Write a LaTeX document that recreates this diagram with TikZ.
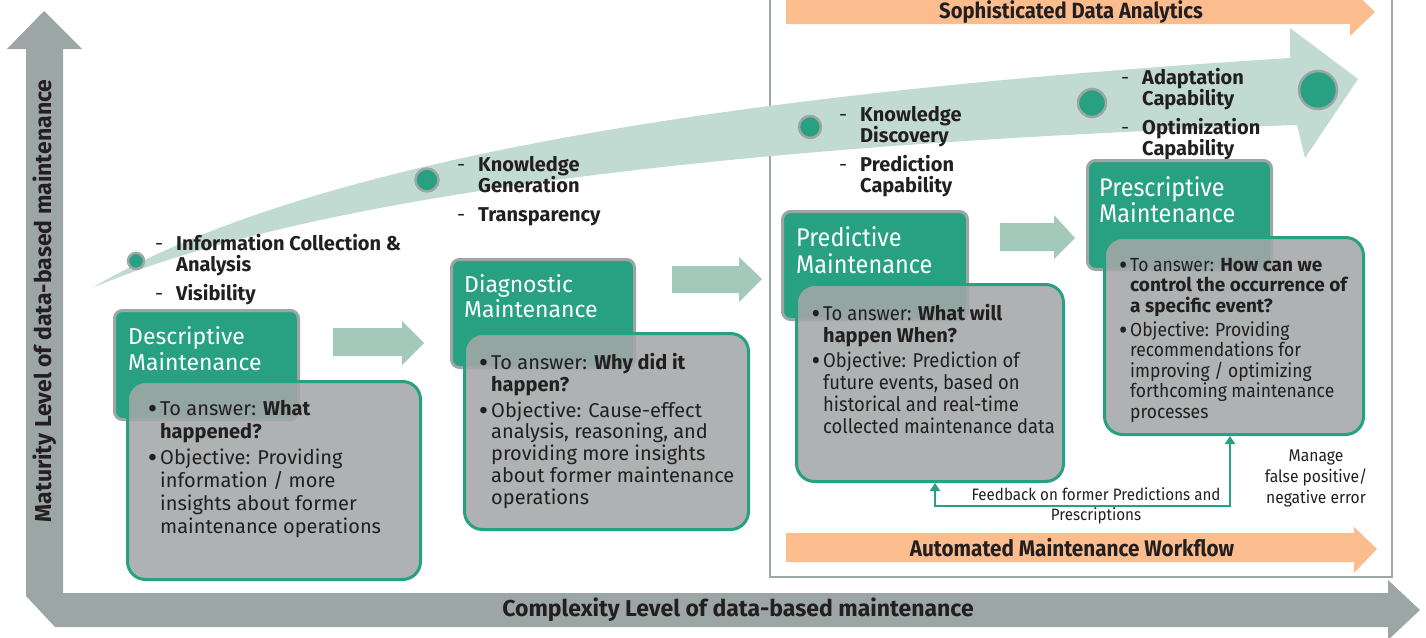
\documentclass[tikz,border=0pt]{standalone}
\usepackage{fontspec}
\setmainfont{Fira Sans}
\newfontfamily\cond[FakeStretch=0.92, BoldFeatures={FakeStretch=1.0}]{Fira Sans}
\newfontfamily\condb[FakeStretch=0.92]{Fira Sans}
\usetikzlibrary{arrows.meta}
\definecolor{axisgray}{HTML}{9CA6A5}
\definecolor{tgreen}{HTML}{27A182}
\definecolor{curvegreen}{HTML}{C2DBD2}
\definecolor{blockgreen}{HTML}{A2C9BA}
\definecolor{peach}{HTML}{FBBC8E}
\definecolor{boxgray}{HTML}{A3A7A7}
\definecolor{txt}{HTML}{231F20}
\newcommand{\bul}{\llap{\raisebox{-0.17em}{\scalebox{1.45}{\textbullet}}\hspace{3pt}}}
\newcommand{\dsh}{\llap{\mdseries-\hspace{13pt}}}
\begin{document}
\begin{tikzpicture}[x=1pt,y=-1pt,
  titlebox/.style={draw=axisgray, line width=3pt, fill=tgreen, rounded corners=8pt, inner sep=0pt, anchor=north west},
  graybox/.style={draw=tgreen, line width=3pt, fill=boxgray, fill opacity=0.88, rounded corners=18pt, inner sep=0pt, anchor=north west},
  titletext/.style={text=white, align=left, anchor=north west, inner sep=0pt},
  bodytext/.style={text=txt, align=left, anchor=north west, inner sep=0pt},
  listtext/.style={text=txt, align=left, anchor=north west, inner sep=0pt, font=\fontsize{20}{21}\selectfont\bfseries},
  dot/.style={circle, draw=axisgray, line width=2.5pt, fill=tgreen, inner sep=0pt},
  fb/.style={draw=tgreen, line width=2pt, arrows={Triangle[width=10pt,length=8pt]-Triangle[width=10pt,length=8pt]}},
  axislabel/.style={text=txt, font=\fontsize{23}{26}\selectfont\bfseries, inner sep=0pt},
  orangelabel/.style={text=txt, font=\condb\fontsize{22.5}{24}\selectfont\bfseries, inner sep=0pt}
]
\useasboundingbox (0,0) rectangle (1426,637);

% axes
\fill[axisgray] (44,11) -- (82,49) -- (63,49) -- (63,593) -- (1388,593) -- (1388,580) -- (1420,610) -- (1388,640) -- (1388,627) -- (55,627) -- (26,596) -- (26,49) -- (7,49) -- cycle;
\node[axislabel, rotate=90] (ylab) at (45,301) {Maturity Level of data-based maintenance};
\node[axislabel] (xlab) at (738,610) {Complexity Level of data-based maintenance};

% right frame
\draw[axisgray, line width=2pt] (770,-5) -- (770,577) -- (1392,577) -- (1392,-5);

% orange arrows
\fill[peach] (786,-2) -- (1350,-2) -- (1350,-12) -- (1375,12) -- (1350,36) -- (1350,24) -- (786,24) -- cycle;
\node[orangelabel, font=\condb\fontsize{22}{24}\selectfont\bfseries] (sda) at (1071,12) {Sophisticated Data Analytics};
\fill[peach] (786,533) -- (1354,533) -- (1354,527) -- (1377,549) -- (1354,573) -- (1354,562) -- (786,562) -- cycle;
\node[orangelabel] (amw) at (1072,548) {Automated Maintenance Workflow};

% big curved arrow
\fill[curvegreen] (92,288) .. controls (300,165) and (700,95) .. (1290,58) -- (1290,28) -- (1358,79) -- (1305,158) -- (1297,125) .. controls (700,145) and (300,200) .. (92,288) -- cycle;

% dots
\node[dot, minimum size=24pt] (d0) at (418,-14) {};
\node[dot, minimum size=16pt] (d1) at (136,261) {};
\node[dot, minimum size=23pt] (d2) at (427,180) {};
\node[dot, minimum size=22pt] (d3) at (810,127) {};
\node[dot, minimum size=28pt] (d4) at (1092,103) {};
\node[dot, minimum size=38pt] (d5) at (1318,90) {};

% lists
\node[listtext] (l1) at (176,234) {\dsh Information Collection \&\\ Analysis\\[8pt] \dsh Visibility};
\node[listtext] (l2) at (478,156) {\dsh Knowledge\\ Generation\\[8pt] \dsh Transparency};
\node[listtext] (l3) at (860,106) {\dsh Knowledge\\ Discovery\\[8pt] \dsh Prediction\\ Capability};
\node[listtext] (l4) at (1142,68) {\dsh Adaptation\\ Capability\\[8pt] \dsh Optimization\\ Capability};

% block arrows
\fill[blockgreen] (333,328) -- (402,328) -- (402,321) -- (424,343) -- (402,365) -- (402,356) -- (333,356) -- cycle;
\fill[blockgreen] (672,266) -- (739,266) -- (739,257) -- (762,279) -- (739,302) -- (739,293) -- (672,293) -- cycle;
\fill[blockgreen] (1000,223) -- (1054,223) -- (1054,215) -- (1075,238) -- (1054,259) -- (1054,251) -- (1000,251) -- cycle;

% boxes 1
\node[titlebox, minimum width=184pt, minimum height=109pt] (t1) at (113,309) {};
\node[graybox, minimum width=293pt, minimum height=198pt] (g1) at (126,380) {};
\node[titletext, font=\fontsize{23}{26}\selectfont] (t1t) at (128,326) {Descriptive\\Maintenance};
\node[bodytext, font=\fontsize{20}{23}\selectfont] (g1t) at (160,400) {\bul To answer: \textbf{What}\\ \textbf{happened?}\\[3pt] \bul Objective: Providing\\ information / more\\ insights about former\\ maintenance operations};

% boxes 2
\node[titlebox, minimum width=183pt, minimum height=108pt] (t2) at (450,258) {};
\node[graybox, minimum width=284pt, minimum height=196pt] (g2) at (463,332) {};
\node[titletext, font=\fontsize{23}{25.5}\selectfont] (t2t) at (464,274) {Diagnostic\\Maintenance};
\node[bodytext, font=\fontsize{20}{21.8}\selectfont] (g2t) at (491,353) {\bul To answer: \textbf{Why did it}\\ \textbf{happen?}\\[4pt] \bul Objective: Cause-effect\\ analysis, reasoning, and\\ providing more insights\\ about former maintenance\\ operations};

% boxes 3
\node[titlebox, minimum width=185pt, minimum height=108pt] (t3) at (781,210) {};
\node[graybox, minimum width=267pt, minimum height=197pt] (g3) at (795,283) {};
\node[titletext, font=\condb\fontsize{25.5}{27}\selectfont] (t3t) at (796,226) {Predictive\\Maintenance};
\node[bodytext, font=\cond\fontsize{20}{22}\selectfont] (g3t) at (823,304) {\bul To answer: \textbf{What will}\\ \textbf{happen When?}\\[3pt] \bul Objective: Prediction of\\ future events, based on\\ historical and real-time\\ collected maintenance data};

% boxes 4
\node[titlebox, minimum width=184pt, minimum height=109pt] (t4) at (1086,159) {};
\node[graybox, minimum width=259pt, minimum height=197pt] (g4) at (1103,236) {};
\node[titletext, font=\condb\fontsize{25.5}{26}\selectfont] (t4t) at (1099,176) {Prescriptive\\Maintenance};
\node[bodytext, font=\cond\fontsize{19}{20.5}\selectfont] (g4t) at (1130,258) {\bul To answer: \textbf{How can we}\\ \textbf{control the occurrence of}\\ \textbf{a specific event?}\\[3.5pt] \bul Objective: Providing\\ recommendations for\\ improving / optimizing\\ forthcoming maintenance\\ processes};

% feedback connector
\coordinate (fb1) at (935,506);
\coordinate (fb2) at (1230,506);
\draw[fb] (fb1 |- g3.south) -- (fb1) -- (fb2) -- (fb2 |- g4.south);
\node[text=txt, align=center, font=\condb\fontsize{16.5}{19.5}\selectfont, inner sep=0pt] (fbt) at (1096,506) {Feedback on former Predictions and\\ Prescriptions};
\node[text=txt, align=center, font=\condb\fontsize{17}{21}\selectfont, inner sep=0pt] (mng) at (1316,478) {Manage\\ false positive/\\ negative error};
\end{tikzpicture}
\end{document}
